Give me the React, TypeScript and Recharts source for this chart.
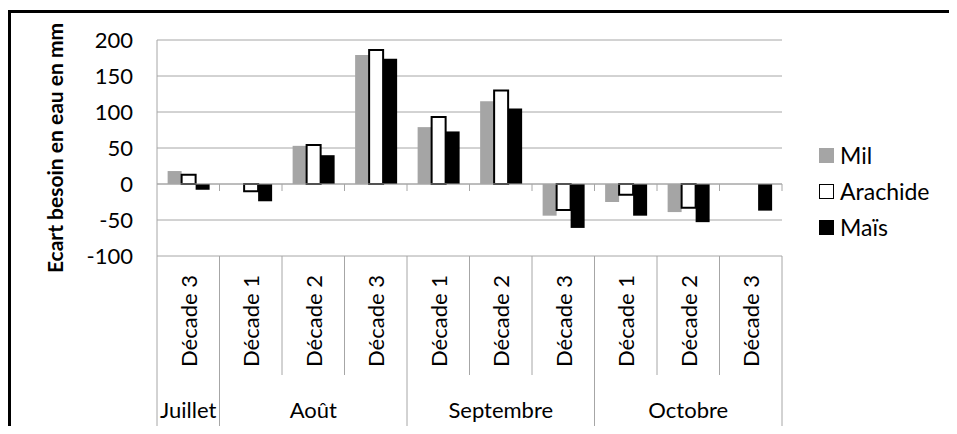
import React from "react";
import { BarChart, Bar, XAxis, YAxis, CartesianGrid, ReferenceLine, Legend } from "recharts";

const categories = [
  "Décade 3",
  "Décade 1", "Décade 2", "Décade 3",
  "Décade 1", "Décade 2", "Décade 3",
  "Décade 1", "Décade 2", "Décade 3",
];
const months = ["Juillet", "Août", "Septembre", "Octobre"];
const monthSpans = [1, 3, 3, 3];

const milValues = [18, 0, 53, 179, 79, 115, -44, -25, -39, 0];
const arachideValues = [13, -10, 54, 186, 93, 130, -36, -15, -33, 0];
const maisValues = [-8, -24, 40, 174, 73, 105, -61, -44, -53, -37];

const yTicks = [-100, -50, 0, 50, 100, 150, 200];
const yTitle = "Ecart besoin en eau en mm";

const series = [
  { key: "mil", name: "Mil", fill: "#a5a5a5", stroke: "none", strokeWidth: 0 },
  { key: "arachide", name: "Arachide", fill: "#ffffff", stroke: "#000000", strokeWidth: 2 },
  { key: "mais", name: "Maïs", fill: "#000000", stroke: "none", strokeWidth: 0 },
];

const data = categories.map((name, i) => ({
  name,
  mil: milValues[i],
  arachide: arachideValues[i],
  mais: maisValues[i],
}));

const W = 957;
const H = 434;
const Y_W = 157;
const X_H = 170;
const MARGIN = { top: 40, right: 175, left: 0, bottom: 8 };
const PLOT_W = W - MARGIN.left - MARGIN.right - Y_W;
const BAND = PLOT_W / categories.length;
const GRID = "#a6a6a6";
const FONT = 22;

const monthStarts: number[] = [];
monthSpans.forEach((s, i) => {
  monthStarts.push(i === 0 ? 0 : monthStarts[i - 1] + monthSpans[i - 1]);
});

const CategoryTick = (props: any) => {
  const { x, y, payload } = props;
  const i = payload.index;
  const left = x - BAND / 2;
  const mi = monthStarts.indexOf(i);
  const isMonthStart = mi >= 0;
  const isLast = i === categories.length - 1;
  return (
    <g>
      <line x1={left} x2={left} y1={y} y2={y + (isMonthStart ? 170 : 119)} stroke={GRID} strokeWidth={1} />
      {isLast && (
        <line x1={x + BAND / 2} x2={x + BAND / 2} y1={y} y2={y + 170} stroke={GRID} strokeWidth={1} />
      )}
      <text
        transform={`translate(${x},${y + 19}) rotate(-90)`}
        textAnchor="end"
        dominantBaseline="central"
        fontSize={FONT}
        fill="#000"
      >
        {payload.value}
      </text>
      {isMonthStart && (
        <text x={left + (monthSpans[mi] * BAND) / 2} y={y + 162} textAnchor="middle" fontSize={FONT} fill="#000">
          {months[mi]}
        </text>
      )}
    </g>
  );
};

const ZeroAxis = (props: any) => {
  const { x1, x2, y1 } = props;
  const n = categories.length;
  const band = (x2 - x1) / n;
  const marks = [];
  for (let i = 1; i <= n; i++) {
    const xx = x1 + i * band;
    marks.push(<line key={i} x1={xx} x2={xx} y1={y1} y2={y1 + 7} stroke={GRID} strokeWidth={1} />);
  }
  return (
    <g>
      <line x1={x1} x2={x2} y1={y1} y2={y1} stroke={GRID} strokeWidth={1} />
      {marks}
    </g>
  );
};

const YTitle = (props: any) => {
  const vb = props.viewBox || { x: 0, y: 40, width: 157, height: 216 };
  const cx = vb.x + 54;
  const cy = vb.y + vb.height / 2;
  return (
    <text
      transform={`translate(${cx},${cy}) rotate(-90)`}
      textAnchor="middle"
      dominantBaseline="central"
      fontSize={21}
      fontWeight="bold"
      fill="#000"
    >
      {yTitle}
    </text>
  );
};

const renderLegend = () => (
  <div style={{ fontFamily: "Lato", color: "#000" }}>
    {series.map((s) => (
      <div key={s.key} style={{ display: "flex", alignItems: "center", height: 36 }}>
        <span
          style={{
            display: "inline-block",
            width: 15,
            height: 15,
            boxSizing: "border-box",
            background: s.fill,
            border: s.stroke !== "none" ? "1.5px solid #000" : "none",
          }}
        />
        <span style={{ marginLeft: 6, fontSize: 23, lineHeight: "36px" }}>{s.name}</span>
      </div>
    ))}
  </div>
);

export default function App() {
  return (
    <div style={{ position: "relative", width: W, height: H, margin: -8, overflow: "hidden", background: "#fff", fontFamily: "Lato" }}>
      <div style={{ position: "absolute", left: 8, top: 10, width: W - 8, height: 3, background: "#000" }} />
      <div style={{ position: "absolute", left: 8, top: 10, width: 3, height: H - 10, background: "#000" }} />
      <div style={{ position: "absolute", left: 0, top: 0 }}>
        <BarChart width={W} height={H} data={data} margin={MARGIN} barCategoryGap="17%" barGap={0}>
          <CartesianGrid horizontal vertical={false} stroke={GRID} strokeWidth={1} />
          <XAxis
            dataKey="name"
            height={X_H}
            interval={0}
            axisLine={false}
            tickLine={false}
            tickSize={0}
            tickMargin={0}
            tick={<CategoryTick />}
          />
          <YAxis
            domain={[-100, 200]}
            ticks={yTicks}
            interval={0}
            width={Y_W}
            axisLine={{ stroke: GRID, strokeWidth: 1 }}
            tickLine={false}
            tickSize={0}
            tickMargin={24}
            tick={{ fontSize: FONT, fill: "#000" }}
            label={<YTitle />}
          />
          <ReferenceLine y={0} shape={<ZeroAxis />} />
          {series.map((s) => (
            <Bar
              key={s.key}
              dataKey={s.key}
              name={s.name}
              fill={s.fill}
              stroke={s.stroke}
              strokeWidth={s.strokeWidth}
              isAnimationActive={false}
            />
          ))}
          <Legend
            layout="vertical"
            align="center"
            verticalAlign="middle"
            content={renderLegend}
            wrapperStyle={{ position: "absolute", left: 819, top: 137, width: 130 }}
          />
        </BarChart>
      </div>
    </div>
  );
}
